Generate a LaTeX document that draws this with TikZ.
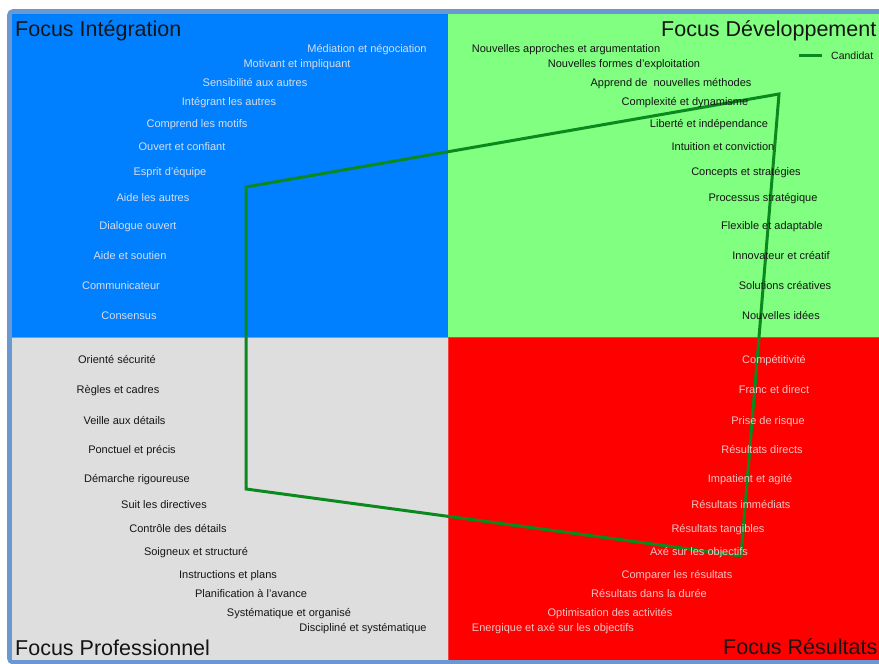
\documentclass[tikz,border=0pt]{standalone}
\usepackage{fontspec}
\setmainfont{Liberation Sans}
\definecolor{qblue}{HTML}{0080FF}
\definecolor{qgreen}{HTML}{80FF80}
\definecolor{qgray}{HTML}{DEDEDE}
\definecolor{qred}{HTML}{FF0000}
\definecolor{framec}{HTML}{6A98D0}
\definecolor{candc}{HTML}{0A8A1E}
\definecolor{txtlight}{HTML}{D8DCEC}
\definecolor{txtpink}{HTML}{F2C4C4}
\definecolor{txtdark}{HTML}{151515}
\begin{document}
\begin{tikzpicture}[x=1pt,y=-1pt,
  lbl/.style={inner sep=0pt, anchor=base, font=\fontsize{11}{13}\selectfont},
  lightlbl/.style={lbl, text=txtlight},
  darklbl/.style={lbl, text=txtdark},
  pinklbl/.style={lbl, text=txtpink},
  ttl/.style={inner sep=0pt, anchor=base west, text=txtdark, font=\fontsize{21.5}{26}\selectfont},
  cand/.style={draw=candc, line width=3pt, line join=miter}]
\useasboundingbox (0,0) rectangle (879,664);
\clip (0,0) rectangle (879,664);
% frame and quadrants
\draw[framec, line width=5pt, rounded corners=4pt] (9.5,11.5) rectangle (900,662);
\fill[qblue] (12,14) rectangle (448,338);
\fill[qgreen] (448,14) rectangle (890,338);
\fill[qgray] (12,338) rectangle (448,660);
\fill[qred] (448,338) rectangle (890,660);
\draw[color=qblue!60!qgray, line width=1pt] (12,337.5) -- (448,337.5);
\draw[color=qred!70!qgreen, line width=1pt] (448,337.5) -- (890,337.5);
\draw[color=qred!70!qgray, line width=1pt] (448.5,338) -- (448.5,660);
% candidate profile
\coordinate (c1) at (779,94);
\coordinate (c2) at (741,556);
\coordinate (c3) at (246,489);
\coordinate (c4) at (246,187);
\draw[cand] (c1) -- (c2) -- (c3) -- (c4) -- cycle;
% legend
\coordinate (lg1) at (799,55.5);
\coordinate (lg2) at (822,55.5);
\draw[cand] (lg1) -- (lg2);
\node[inner sep=0pt, anchor=base west, text=txtdark, font=\fontsize{10.5}{12}\selectfont] (lgt) at (831,59) {Candidat};
% titles
\node[ttl] (t1) at (15,36.5) {Focus Intégration};
\node[ttl] (t2) at (661,36) {Focus Développement};
\node[ttl] (t3) at (15,655) {Focus Professionnel};
\node[ttl] (t4) at (723,654) {Focus Résultats};
% blue quadrant
\node[lightlbl] (b1) at (367,52) {Médiation et négociation};
\node[lightlbl] (b2) at (297,67) {Motivant et impliquant};
\node[lightlbl] (b3) at (255,86) {Sensibilité aux autres};
\node[lightlbl] (b4) at (229,105) {Intégrant les autres};
\node[lightlbl] (b5) at (197,127) {Comprend les motifs};
\node[lightlbl] (b6) at (182,150) {Ouvert et confiant};
\node[lightlbl] (b7) at (170,175) {Esprit d'équipe};
\node[lightlbl] (b8) at (153,201) {Aide les autres};
\node[lightlbl] (b9) at (138,229) {Dialogue ouvert};
\node[lightlbl] (b10) at (130,259) {Aide et soutien};
\node[lightlbl] (b11) at (121,289) {Communicateur};
\node[lightlbl] (b12) at (129,319) {Consensus};
% green quadrant
\node[darklbl] (g1) at (566,52) {Nouvelles approches et argumentation};
\node[darklbl] (g2) at (624,67) {Nouvelles formes d'exploitation};
\node[darklbl] (g3) at (671,86) {Apprend de\ \ nouvelles méthodes};
\node[darklbl] (g4) at (685,105) {Complexité et dynamisme};
\node[darklbl] (g5) at (709,127) {Liberté et indépendance};
\node[darklbl] (g6) at (723,150) {Intuition et conviction};
\node[darklbl] (g7) at (746,175) {Concepts et stratégies};
\node[darklbl] (g8) at (763,201) {Processus stratégique};
\node[darklbl] (g9) at (772,229) {Flexible et adaptable};
\node[darklbl] (g10) at (781,259) {Innovateur et créatif};
\node[darklbl] (g11) at (785,289) {Solutions créatives};
\node[darklbl] (g12) at (781,319) {Nouvelles idées};
% gray quadrant
\node[darklbl] (s1) at (117,363) {Orienté sécurité};
\node[darklbl] (s2) at (118,393) {Règles et cadres};
\node[darklbl] (s3) at (124.5,424) {Veille aux détails};
\node[darklbl] (s4) at (132,453) {Ponctuel et précis};
\node[darklbl] (s5) at (137,482) {Démarche rigoureuse};
\node[darklbl] (s6) at (164,508) {Suit les directives};
\node[darklbl] (s7) at (178,532) {Contrôle des détails};
\node[darklbl] (s8) at (196,555) {Soigneux et structuré};
\node[darklbl] (s9) at (228,578) {Instructions et plans};
\node[darklbl] (s10) at (251,597) {Planification à l'avance};
\node[darklbl] (s11) at (289,616) {Systématique et organisé};
\node[darklbl] (s12) at (363,631) {Discipliné et systématique};
% red quadrant
\node[pinklbl] (r1) at (774,363) {Compétitivité};
\node[pinklbl] (r2) at (774,393) {Franc et direct};
\node[pinklbl] (r3) at (768,424) {Prise de risque};
\node[pinklbl] (r4) at (762,453) {Résultats directs};
\node[pinklbl] (r5) at (750,482) {Impatient et agité};
\node[pinklbl] (r6) at (741,508) {Résultats immédiats};
\node[pinklbl] (r7) at (718,532) {Résultats tangibles};
\node[pinklbl] (r8) at (699,555) {Axé sur les objectifs};
\node[pinklbl] (r9) at (677,578) {Comparer les résultats};
\node[pinklbl] (r10) at (649,597) {Résultats dans la durée};
\node[pinklbl] (r11) at (610,616) {Optimisation des activités};
\node[pinklbl] (r12) at (553,631) {Energique et axé sur les objectifs};
\end{tikzpicture}
\end{document}
